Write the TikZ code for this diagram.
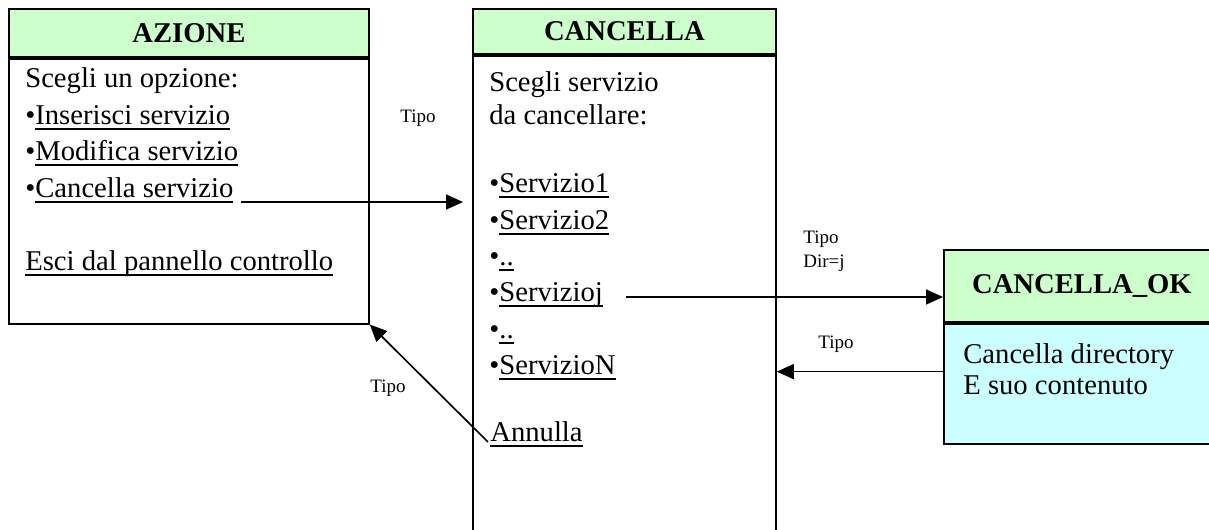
\documentclass[tikz,border=0pt]{standalone}
\usepackage{fontspec}
\setmainfont{Liberation Serif}
\usepackage{tikz}
\usetikzlibrary{
    positioning,
    arrows.meta,
    calc
}
\definecolor{HeadGreen}{RGB}{204,255,204}
\definecolor{BodyCyan}{RGB}{204,255,255}
\newcommand{\lnk}[1]{\setbox0=\hbox{#1}\rlap{\rule[-0.11cm]{\wd0}{0.04cm}}\box0}

\begin{document}
\begin{tikzpicture}[
    txt/.style={anchor=base west, inner sep=0pt, font=\fontsize{16.3}{19}\selectfont},
    lbl/.style={anchor=base, inner sep=0pt, font=\fontsize{10.8}{13}\selectfont},
    head/.style={draw, line width=1pt, fill=HeadGreen, anchor=north west, inner sep=0pt, font=\fontsize{16.3}{19}\selectfont\bfseries},
    body/.style={draw, line width=1pt, anchor=north, inner sep=0pt},
    arr/.style={line width=0.95pt, -{Triangle[length=0.34cm, width=0.3cm]}},
]
    \useasboundingbox (0,0) rectangle (24.18,10.6);
    \clip (0,0) rectangle (24.18,10.6);

    % AZIONE panel
    \node[head, minimum width=7.2cm, minimum height=0.96cm] (azhead) at (0.16,10.44) {AZIONE};
    \node[body, minimum width=7.2cm, minimum height=5.3cm] (azbody) at (azhead.south) {};
    \node[txt] (az1) at (0.50,8.84) {Scegli un opzione:};
    \node[txt] (az2) at (0.50,8.11) {\textbullet\lnk{Inserisci servizio}};
    \node[txt] (az3) at (0.50,7.38) {\textbullet\lnk{Modifica servizio}};
    \node[txt] (az4) at (0.50,6.65) {\textbullet\lnk{Cancella servizio}};
    \node[txt] (az5) at (0.50,5.19) {\lnk{Esci dal pannello controllo}};

    % CANCELLA panel
    \node[head, minimum width=6.06cm, minimum height=0.9cm] (canchead) at (9.44,10.44) {CANCELLA};
    \node[body, minimum width=6.06cm, minimum height=9.74cm] (cancbody) at (canchead.south) {};
    \node[txt] (cs1) at (9.78,8.76) {Scegli servizio};
    \node[txt] (cs2) at (9.78,8.10) {da cancellare:};
    \node[txt] (sv1) at (9.78,6.74) {\textbullet\lnk{Servizio1}};
    \node[txt] (sv2) at (9.78,6.01) {\textbullet\lnk{Servizio2}};
    \node[txt] (sv3) at (9.78,5.28) {\textbullet\lnk{..}};
    \node[txt] (sv4) at (9.78,4.56) {\textbullet\lnk{Servizioj}};
    \node[txt] (sv5) at (9.78,3.83) {\textbullet\lnk{..}};
    \node[txt] (sv6) at (9.78,3.10) {\textbullet\lnk{ServizioN}};
    \node[txt] (annulla) at (9.80,1.76) {\lnk{Annulla}};

    % CANCELLA_OK panel
    \node[head, minimum width=5.52cm, minimum height=1.44cm] (okhead) at (18.86,5.62) {CANCELLA\_OK};
    \node[body, fill=BodyCyan, minimum width=5.52cm, minimum height=2.4cm] (okbody) at (okhead.south) {};
    \node[txt] (ok1) at (19.26,3.32) {Cancella directory};
    \node[txt] (ok2) at (19.26,2.70) {E suo contenuto};

    % Links
    \coordinate (in1) at (9.26,6.56);
    \draw[arr] ([xshift=0.14cm, yshift=-0.09cm]az4.base east) -- (in1);
    \coordinate (out2) at ([xshift=0.46cm, yshift=0.10cm]sv4.base east);
    \draw[arr] (out2) -- (okhead.west |- out2);
    \coordinate (out3) at ([yshift=0.24cm]okbody.west);
    \draw[arr] (out3) -- (cancbody.east |- out3);
    \draw[arr] ([xshift=-0.04cm]annulla.base west) -- (azbody.south east);

    % Labels
    \node[lbl] (t1) at (8.36,8.14) {Tipo};
    \node[lbl, anchor=base west] (t2) at (16.06,5.72) {Tipo};
    \node[lbl, anchor=base west] (t3) at (16.06,5.24) {Dir=j};
    \node[lbl] (t4) at (16.72,3.62) {Tipo};
    \node[lbl] (t5) at (7.76,2.74) {Tipo};

\end{tikzpicture}
\end{document}
